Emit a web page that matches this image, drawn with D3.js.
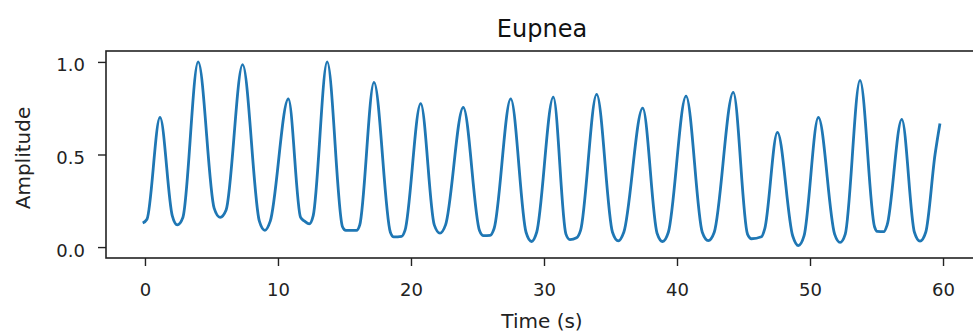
<!DOCTYPE html>
<html>
<head>
<meta charset="utf-8">
<script src="https://cdn.jsdelivr.net/npm/d3@7"></script>
<style>
  body { margin: 0; background: #fff; }
  svg { display: block; font-family: "DejaVu Sans", sans-serif; }
</style>
</head>
<body>
<div id="container"></div>
<script>
var width = 973;
var height = 335;

// key points of the breathing trace (time in s, amplitude)
var times = [
  -0.17, 0.15, 1.13,
  2.05, 2.43, 2.85, 4.0,
  5.2, 5.65, 6.1, 7.34,
  8.6, 9.02, 9.42, 10.78,
  11.7, 12.0, 12.35, 12.65, 13.7,
  14.85, 15.1, 15.9, 16.15, 17.22,
  18.45, 18.7, 19.3, 19.55, 20.73,
  21.75, 22.18, 22.6, 23.93,
  25.15, 25.45, 25.95, 26.25, 27.5,
  28.65, 29.07, 29.45, 30.7,
  31.65, 31.95, 32.45, 32.75, 33.96,
  35.15, 35.59, 36.0, 37.42,
  38.5, 38.92, 39.35, 40.68,
  41.9, 42.35, 42.8, 44.23,
  45.3, 45.6, 46.35, 46.6, 47.55,
  48.7, 49.12, 49.55, 50.63,
  51.85, 52.26, 52.65, 53.76,
  54.85, 55.05, 55.55, 55.8, 56.9,
  57.85, 58.27, 58.7, 59.4, 59.77
];
var amplitude = [
  0.13, 0.15, 0.70,
  0.17, 0.12, 0.16, 1.0,
  0.21, 0.16, 0.20, 0.985,
  0.14, 0.09, 0.14, 0.80,
  0.16, 0.14, 0.125, 0.17, 1.0,
  0.11, 0.09, 0.09, 0.12, 0.89,
  0.08, 0.055, 0.058, 0.09, 0.775,
  0.12, 0.075, 0.12, 0.755,
  0.09, 0.062, 0.063, 0.10, 0.80,
  0.08, 0.03, 0.08, 0.81,
  0.07, 0.04, 0.05, 0.09, 0.825,
  0.08, 0.033, 0.08, 0.75,
  0.075, 0.03, 0.08, 0.815,
  0.08, 0.035, 0.08, 0.835,
  0.07, 0.045, 0.056, 0.10, 0.62,
  0.06, 0.008, 0.06, 0.70,
  0.07, 0.025, 0.07, 0.90,
  0.11, 0.085, 0.083, 0.12, 0.69,
  0.08, 0.032, 0.08, 0.50, 0.668
];
var xTicks = [0, 10, 20, 30, 40, 50, 60];
var yTicks = [0.0, 0.5, 1.0];
var xLim = [-2.93, 62.63];
var yLim = [-0.059, 1.059];

var margin = {left: 106, right: 978, top: 51, bottom: 258};

var svg = d3.select("div#container").append("svg")
    .attr("width", width)
    .attr("height", height);

var x = d3.scaleLinear().domain(xLim).range([margin.left, margin.right]);
var y = d3.scaleLinear().domain(yLim).range([margin.bottom, margin.top]);

var data = times.map(function(t, i) { return {t: t, a: amplitude[i]}; });

var line = d3.line()
    .x(function(d) { return x(d.t); })
    .y(function(d) { return y(d.a); })
    .curve(d3.curveMonotoneX);

svg.append("path")
    .datum(data)
    .attr("fill", "none")
    .attr("stroke", "#1f77b4")
    .attr("stroke-width", 2.8)
    .attr("stroke-linejoin", "round")
    .attr("d", line);

// axes
var xAxis = d3.axisBottom(x).tickValues(xTicks).tickSize(8).tickPadding(17)
    .tickFormat(d3.format("d"));
svg.append("g")
    .attr("transform", "translate(0," + margin.bottom + ")")
    .call(xAxis)
    .call(function(g) {
        g.select(".domain").remove();
        g.selectAll("line").attr("stroke", "#222").attr("stroke-width", 1.4);
        g.selectAll("text").attr("font-size", 18).attr("fill", "#222")
            .attr("font-family", "DejaVu Sans");
    });

var yAxis = d3.axisLeft(y).tickValues(yTicks).tickSize(8).tickPadding(13)
    .tickFormat(d3.format(".1f"));
svg.append("g")
    .attr("transform", "translate(" + margin.left + ",0)")
    .call(yAxis)
    .call(function(g) {
        g.select(".domain").remove();
        g.selectAll("line").attr("stroke", "#222").attr("stroke-width", 1.4);
        g.selectAll("text").attr("font-size", 18).attr("fill", "#222")
            .attr("font-family", "DejaVu Sans").attr("dy", "0.5em");
    });

// spines
svg.append("rect")
    .attr("x", margin.left)
    .attr("y", margin.top)
    .attr("width", margin.right - margin.left)
    .attr("height", margin.bottom - margin.top)
    .attr("fill", "none")
    .attr("stroke", "#222")
    .attr("stroke-width", 1.6);

// labels
svg.append("text")
    .attr("x", (margin.left + margin.right) / 2)
    .attr("y", 37)
    .attr("text-anchor", "middle")
    .attr("font-size", 24)
    .attr("fill", "#111")
    .text("Eupnea");

svg.append("text")
    .attr("x", (margin.left + margin.right) / 2)
    .attr("y", 328)
    .attr("text-anchor", "middle")
    .attr("font-size", 20)
    .attr("fill", "#222")
    .text("Time (s)");

svg.append("text")
    .attr("transform", "translate(30,158) rotate(-90)")
    .attr("text-anchor", "middle")
    .attr("font-size", 20)
    .attr("fill", "#222")
    .text("Amplitude");
</script>
</body>
</html>
